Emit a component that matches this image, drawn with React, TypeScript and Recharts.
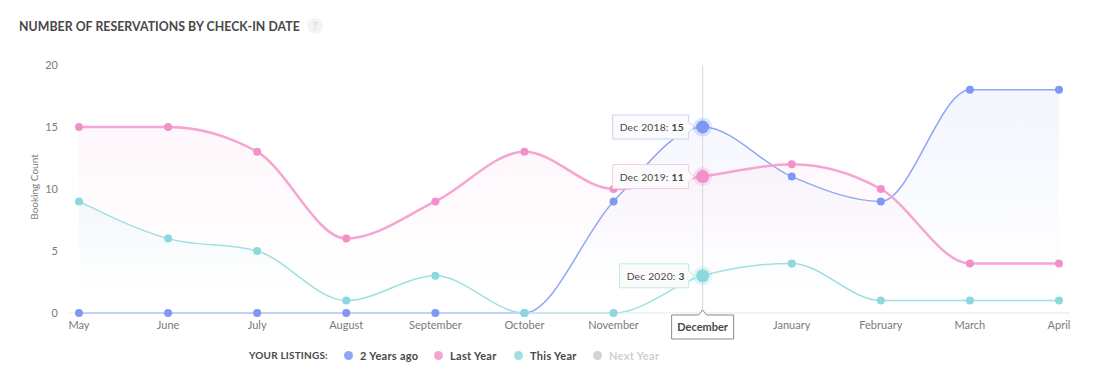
import React from 'react';
import { ComposedChart, Area, XAxis, YAxis, ReferenceLine } from 'recharts';

const months = ['May', 'June', 'July', 'August', 'September', 'October', 'November', 'December', 'January', 'February', 'March', 'April'];
const twoYearsAgo = [0, 0, 0, 0, 0, 0, 9, 15, 11, 9, 18, 18];
const lastYear = [15, 15, 13, 6, 9, 13, 10, 11, 12, 10, 4, 4];
const thisYear = [9, 6, 5, 1, 3, 0, 0, 3, 4, 1, 1, 1];
const yTicks = [0, 5, 10, 15, 20];
const seriesNames = ['2 Years ago', 'Last Year', 'This Year', 'Next Year'];
const tooltipLabels = ['Dec 2018', 'Dec 2019', 'Dec 2020'];
const activeMonth = 'December';

const colors = {
  blue: { line: '#8fa6f6', dot: '#7f98f4', fill: '#8fa6f6', box: '#c9d4fb' },
  pink: { line: '#f6a5d3', dot: '#f290c8', fill: '#f6a5d3', box: '#f8cbe4' },
  teal: { line: '#9fe0e3', dot: '#8cd9dd', fill: '#9fd9dc', box: '#bfeaec' },
};

const data = months.map((m, i) => ({ month: m, a: twoYearsAgo[i], b: lastYear[i], c: thisYear[i] }));

const FONT = 'Lato, "Open Sans", sans-serif';

const makeDot = (c: any, key: string, label: string) => (props: any) => {
  const { cx, cy, index, payload } = props;
  if (cx == null || cy == null) return <g key={`d${key}${index}`} />;
  if (months[index] !== activeMonth) {
    return <circle key={`d${key}${index}`} cx={cx} cy={cy} r={4} fill={c.dot} />;
  }
  const v = payload[key];
  const n = label.length + 2 + String(v).length;
  const w = 7 * n - 8;
  const x1 = cx - 14;
  const x0 = x1 - w;
  const y0 = cy - 12;
  const y1 = cy + 12;
  const path = `M${x0},${y0} L${x1},${y0} L${x1},${cy - 5} L${x1 + 6},${cy} L${x1},${cy + 5} L${x1},${y1} L${x0},${y1} Z`;
  return (
    <g key={`d${key}${index}`}>
      <path d={path} fill="#fbfbfb" stroke={c.box} strokeWidth={1} />
      <text x={x0 + 7} y={cy + 4} fontSize={10.3} fontFamily={FONT} fill="#484848" letterSpacing={0.2}>
        {`${label}: `}
        <tspan fontWeight={700}>{v}</tspan>
      </text>
      <circle cx={cx} cy={cy} r={9.5} fill={c.dot} opacity={0.25} />
      <circle cx={cx} cy={cy} r={6.5} fill={c.dot} />
    </g>
  );
};

const XTick = (props: any) => {
  const { x, y, payload } = props;
  const v = payload.value;
  if (v === activeMonth) {
    const w = 62;
    const top = y - 5;
    const path = `M${x - w / 2},${top + 5} L${x - 4},${top + 5} L${x},${top} L${x + 4},${top + 5} L${x + w / 2},${top + 5} L${x + w / 2},${top + 29} L${x - w / 2},${top + 29} Z`;
    return (
      <g>
        <path d={path} fill="#fff" stroke="#8a8a8a" strokeWidth={1} />
        <text x={x} y={top + 21} textAnchor="middle" fontSize={11} fontWeight={700} fontFamily={FONT} fill="#484848">
          {v}
        </text>
      </g>
    );
  }
  return (
    <text x={x} y={y + 14} textAnchor="middle" fontSize={11} fontFamily={FONT} fill="#7a7a7a">
      {v}
    </text>
  );
};

const YLabel = () => (
  <text x={38} y={187} transform="rotate(-90 38 187)" textAnchor="middle" fontSize={10} fontFamily={FONT} fill="#7a7a7a">
    Booking Count
  </text>
);

const legendColors = ['#8fa6f6', '#f6a5d3', '#9fe0e3', '#d3d3d3'];
const legendGaps = [90, 80, 79, 80];

export default function App() {
  return (
    <div style={{ position: 'absolute', left: 0, top: 0, width: 1094, height: 392, background: '#fff', fontFamily: FONT }}>
      <div style={{ position: 'absolute', left: 19, top: 19, fontSize: 12.3, fontWeight: 700, color: '#484848', letterSpacing: 0.05, whiteSpace: 'nowrap' }}>
        NUMBER OF RESERVATIONS BY CHECK-IN DATE
      </div>
      <div style={{ position: 'absolute', left: 307, top: 18, width: 16, height: 16, borderRadius: 8, background: '#f4f4f4', color: '#c8c8c8', fontSize: 9, textAlign: 'center', lineHeight: '16px' }}>
        ?
      </div>
      <div style={{ position: 'absolute', left: 0, top: 0 }}>
        <ComposedChart width={1094} height={350} data={data} margin={{ top: 65, right: 24, bottom: 7, left: 0 }}>
          <defs>
            <linearGradient id="gBlue" x1="0" y1="0" x2="0" y2="1">
              <stop offset="0%" stopColor={colors.blue.fill} stopOpacity={0.18} />
              <stop offset="85%" stopColor={colors.blue.fill} stopOpacity={0} />
            </linearGradient>
            <linearGradient id="gPink" x1="0" y1="0" x2="0" y2="1">
              <stop offset="0%" stopColor={colors.pink.fill} stopOpacity={0.16} />
              <stop offset="85%" stopColor={colors.pink.fill} stopOpacity={0} />
            </linearGradient>
            <linearGradient id="gTeal" x1="0" y1="0" x2="0" y2="1">
              <stop offset="0%" stopColor={colors.teal.fill} stopOpacity={0.18} />
              <stop offset="85%" stopColor={colors.teal.fill} stopOpacity={0} />
            </linearGradient>
          </defs>
          <XAxis
            dataKey="month"
            interval={0}
            padding={{ left: 10, right: 11 }}
            axisLine={{ stroke: '#dfe6ef', strokeWidth: 1 }}
            tickLine={false}
            tickSize={0}
            tick={<XTick />}
            height={30}
          />
          <YAxis
            domain={[0, 20]}
            ticks={yTicks}
            axisLine={false}
            tickLine={false}
            tickSize={0}
            tickMargin={11}
            width={69}
            tick={{ fontSize: 11, fill: '#7a7a7a', fontFamily: FONT }}
            label={<YLabel />}
          />
          <ReferenceLine x={activeMonth} stroke="#d8d8d8" strokeWidth={1} />
          <Area
            type="monotone"
            dataKey="a"
            stroke={colors.blue.line}
            strokeWidth={1.5}
            fill="url(#gBlue)"
            dot={makeDot(colors.blue, 'a', tooltipLabels[0])}
            activeDot={false}
            isAnimationActive={false}
          />
          <Area
            type="monotone"
            dataKey="b"
            stroke={colors.pink.line}
            strokeWidth={2.5}
            fill="url(#gPink)"
            dot={makeDot(colors.pink, 'b', tooltipLabels[1])}
            activeDot={false}
            isAnimationActive={false}
          />
          <Area
            type="monotone"
            dataKey="c"
            stroke={colors.teal.line}
            strokeWidth={1.5}
            fill="url(#gTeal)"
            dot={makeDot(colors.teal, 'c', tooltipLabels[2])}
            activeDot={false}
            isAnimationActive={false}
          />
        </ComposedChart>
      </div>
      <div style={{ position: 'absolute', left: 249, top: 348, display: 'flex', alignItems: 'center', fontSize: 10, fontWeight: 700, color: '#484848', whiteSpace: 'nowrap', height: 14 }}>
        <span style={{ width: 95, letterSpacing: 0.2 }}>YOUR LISTINGS:</span>
        {seriesNames.map((n, i) => (
          <span key={n} style={{ display: 'flex', alignItems: 'center', width: legendGaps[i], fontSize: 11, letterSpacing: 0.3, color: i === 3 ? '#d0d0d0' : '#484848' }}>
            <span style={{ width: 9, height: 9, borderRadius: 5, background: legendColors[i], marginRight: 7, display: 'inline-block', flexShrink: 0 }} />
            {n}
          </span>
        ))}
      </div>
    </div>
  );
}
